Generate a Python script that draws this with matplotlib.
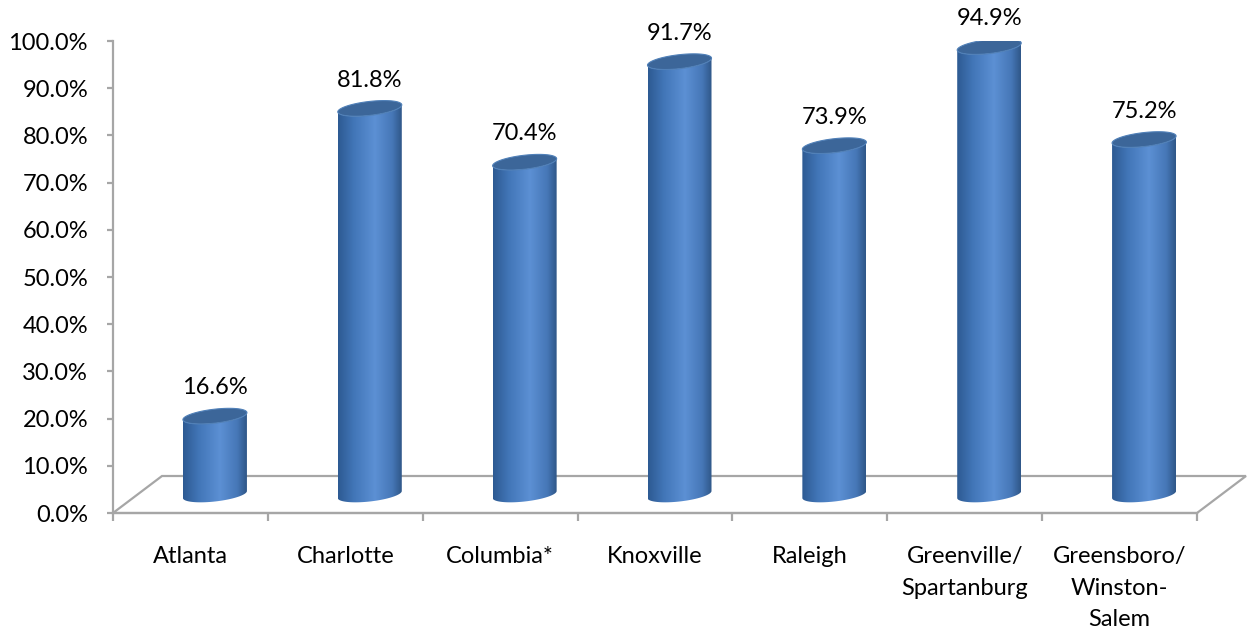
import numpy as np
import matplotlib
matplotlib.use('Agg')
import matplotlib.pyplot as plt
from matplotlib.patches import Polygon
from matplotlib.colors import LinearSegmentedColormap

categories = ['Atlanta', 'Charlotte', 'Columbia*', 'Knoxville', 'Raleigh',
              'Greenville/\nSpartanburg', 'Greensboro/\nWinston-\nSalem']
values = [16.6, 81.8, 70.4, 91.7, 73.9, 94.9, 75.2]
value_labels = [f'{v:.1f}%' for v in values]
yticks = np.arange(0, 101, 10)
ytick_labels = [f'{t:.1f}%' for t in yticks]

FONT = 'Lato'
FS = 17
W, H = 1251, 631
fig = plt.figure(figsize=(W / 100, H / 100), dpi=100)
px0, px1 = 113, 1197
py0, py1 = 513, 41
ax = fig.add_axes([px0 / W, 1 - py0 / H, (px1 - px0) / W, (py0 - py1) / H])
n = len(categories)
ax.set_xlim(0, n)
ax.set_ylim(0, 100)
ppx = (px1 - px0) / n
ppy = (py0 - py1) / 100.0
dx = 49 / ppx
dy = 37 / ppy

grey = '#a6a6a6'
for s in ['top', 'right']:
    ax.spines[s].set_visible(False)
for s in ['left', 'bottom']:
    ax.spines[s].set_color(grey)
    ax.spines[s].set_linewidth(1.6)

# floor
floor = Polygon([(0, 0), (n, 0), (n + dx, dy), (dx, dy)], closed=True,
                facecolor='white', edgecolor=grey, lw=1.6, clip_on=False, zorder=1)
ax.add_patch(floor)

ax.set_yticks(yticks)
ax.set_yticklabels(ytick_labels, fontfamily=FONT, fontsize=FS)
ax.tick_params(axis='y', length=4, width=1.6, color=grey, pad=14)
ax.set_xticks(np.arange(0, n + 1))
ax.set_xticklabels([])
ax.tick_params(axis='x', which='major', length=6, width=1.6, color=grey)
ax.set_xticks(np.arange(n) + 0.5, minor=True)
ax.set_xticklabels(categories, minor=True, fontfamily=FONT, fontsize=FS,
                   linespacing=1.62, va='top')
ax.tick_params(axis='x', which='minor', length=0, pad=24)

cmap = LinearSegmentedColormap.from_list('cyl', [
    (0.0, '#2d5a92'), (0.25, '#4276b8'), (0.58, '#5c90d4'),
    (0.85, '#4677b7'), (1.0, '#2f5788')])
grad = np.linspace(0, 1, 256).reshape(1, -1)

a = 32 / ppx      # half width
b = 7.0 / ppy     # ellipse semi-minor
sh = 3.5 / ppy    # tilt
theta_low = np.linspace(np.pi, 2 * np.pi, 80)

def ell(cx, cy, th):
    return cx + a * np.cos(th), cy + b * np.sin(th) + sh * np.cos(th)

for i, v in enumerate(values):
    cx = i + 0.5 + dx / 2
    yb = dy / 2
    yt = v + dy / 2
    bx, by = ell(cx, yb, theta_low)
    tx, ty = ell(cx, yt, theta_low[::-1])
    pts = np.column_stack([np.r_[bx, tx], np.r_[by, ty]])
    side = Polygon(pts, closed=True, facecolor='none', edgecolor='none', zorder=3)
    ax.add_patch(side)
    im = ax.imshow(grad, cmap=cmap, extent=[cx - a, cx + a, yb - 3 * b, yt + 3 * b],
                   aspect='auto', zorder=3, interpolation='bilinear')
    im.set_clip_path(side)
    th = np.linspace(0, 2 * np.pi, 160)
    ex, ey = ell(cx, yt, th)
    top = Polygon(np.column_stack([ex, ey]), closed=True, facecolor='#3c6699',
                  edgecolor='#5080b8', lw=0.8, zorder=4)
    ax.add_patch(top)
    ax.text(cx, yt + 6.0, value_labels[i], ha='center', va='center',
            fontfamily=FONT, fontsize=FS, zorder=5)

ax.set_xlim(0, n)
ax.set_ylim(0, 100)
fig.savefig('out.png', dpi=100)
